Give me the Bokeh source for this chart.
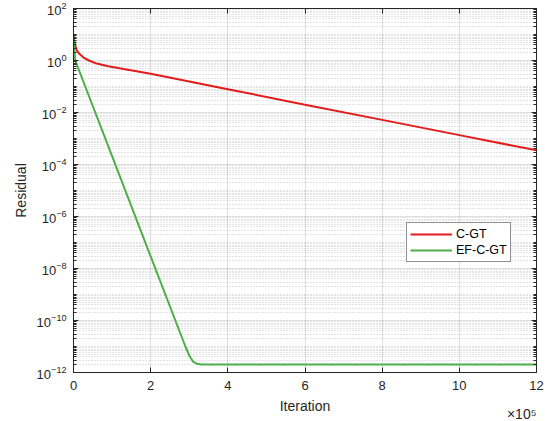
from bokeh.plotting import figure
from bokeh.models import (Range1d, FixedTicker, LinearAxis, LogAxis, Legend, LegendItem,
                          CustomJSTickFormatter, ColumnDataSource, Title)
from bokeh.embed import file_html
from bokeh.resources import INLINE

# ---- data ----
red_iter = [0, 2000, 5000, 9000, 15000, 26000, 40000, 60000, 90000, 130000,
            200000, 400000, 600000, 800000, 1000000, 1200000]
red_res = [10, 5.6, 3.5, 2.4, 1.8, 1.3, 1.0, 0.76, 0.6, 0.47,
           0.31, 0.079, 0.020, 0.0052, 0.00135, 0.00035]

green_iter = [0, 2000, 4500, 100000, 200000, 290000, 300000, 310000, 320000, 330000, 1200000]
green_res = [10, 3.0, 1.0, 2.1e-4, 2.9e-8, 1.0e-11, 4.5e-12, 2.6e-12, 2.15e-12, 2.05e-12, 2.05e-12]

x_ticks = [0, 200000, 400000, 600000, 800000, 1000000, 1200000]
y_ticks = [1e-12, 1e-10, 1e-8, 1e-6, 1e-4, 1e-2, 1e0, 1e2]
series_names = ["C-GT", "EF-C-GT"]

# minor tick positions for the log axis (1..9 x 10^k)
y_minor = []
for k in range(-12, 2):
    for m in range(1, 10):
        if m == 1 and k % 2 == 0:
            continue
        y_minor.append(m * 10.0 ** k)

FONT = "Liberation Sans"
AX = "#262626"

p = figure(width=550, height=421, output_backend="svg", toolbar_location=None,
           y_axis_type="log",
           x_range=Range1d(0, 1200000), y_range=Range1d(1e-12, 1e2),
           min_border_left=73, min_border_right=14, min_border_top=8, min_border_bottom=49)
p.background_fill_color = "white"
p.border_fill_color = "white"
p.outline_line_color = AX
p.outline_line_width = 1

xt = FixedTicker(ticks=x_ticks)
yt = FixedTicker(ticks=y_ticks, minor_ticks=y_minor)

p.xaxis.ticker = xt
p.yaxis.ticker = yt
p.xgrid.ticker = xt
p.ygrid.ticker = yt
p.xaxis.formatter = CustomJSTickFormatter(code="return (tick/1e5).toFixed(0);")

for ax in (p.xaxis[0], p.yaxis[0]):
    ax.axis_line_color = AX
    ax.major_tick_line_color = AX
    ax.minor_tick_line_color = AX
    ax.major_tick_in = 5
    ax.major_tick_out = 0
    ax.major_label_text_font = FONT
    ax.major_label_text_font_size = "13px"
    ax.major_label_text_color = AX
    ax.axis_label_text_font = FONT
    ax.axis_label_text_font_size = "14px"
    ax.axis_label_text_font_style = "normal"
    ax.axis_label_text_color = AX

p.xaxis.minor_tick_in = 0
p.xaxis.minor_tick_out = 0
p.yaxis.minor_tick_in = 3
p.yaxis.minor_tick_out = 0
p.xaxis.major_label_standoff = 8
p.yaxis.major_label_standoff = 7
p.xaxis.axis_label = "Iteration"
p.yaxis.axis_label = "Residual"
p.xaxis.axis_label_standoff = 5
p.yaxis.axis_label_standoff = 5

blank = CustomJSTickFormatter(code="return '';")
top = LinearAxis(ticker=xt, formatter=blank, major_tick_in=5, major_tick_out=0,
                 minor_tick_in=0, minor_tick_out=0, axis_line_color=None,
                 major_tick_line_color=AX, major_label_standoff=0,
                 major_label_text_font_size="0px")
right = LogAxis(ticker=yt, formatter=blank, major_tick_in=5, major_tick_out=0,
                minor_tick_in=3, minor_tick_out=0, axis_line_color=None,
                major_tick_line_color=AX, minor_tick_line_color=AX,
                major_label_standoff=0, major_label_text_font_size="0px")
p.add_layout(top, "above")
p.add_layout(right, "right")

for g in (p.xgrid[0], p.ygrid[0]):
    g.grid_line_color = AX
    g.grid_line_alpha = 0.15
p.ygrid.minor_grid_line_color = AX
p.ygrid.minor_grid_line_alpha = 0.25
p.ygrid.minor_grid_line_dash = "1 2"

src_r = ColumnDataSource(dict(x=red_iter, y=red_res))
src_g = ColumnDataSource(dict(x=green_iter, y=green_res))
r1 = p.line("x", "y", source=src_r, line_color="#e41a1c", line_width=2)
r2 = p.line("x", "y", source=src_g, line_color="#4daf4a", line_width=2)

legend = Legend(items=[LegendItem(label=series_names[0], renderers=[r1]),
                       LegendItem(label=series_names[1], renderers=[r2])],
                location=(333, 110), orientation="vertical", padding=3, spacing=0,
                margin=0, glyph_width=42, glyph_height=16, label_height=16,
                label_standoff=4, label_text_font=FONT, label_text_font_size="12.5px",
                label_text_color="black",
                border_line_color=AX, border_line_width=1, background_fill_color="white",
                background_fill_alpha=1)
p.add_layout(legend, "center")

# "x10^5" multiplier under the right end of the x axis
p.add_layout(Title(text="×10⁵", align="right", vertical_align="top", standoff=-22,
                   offset=0, text_font=FONT, text_font_size="14px",
                   text_font_style="normal", text_color=AX), "below")

open("out.html", "w").write(file_html(p, INLINE))
